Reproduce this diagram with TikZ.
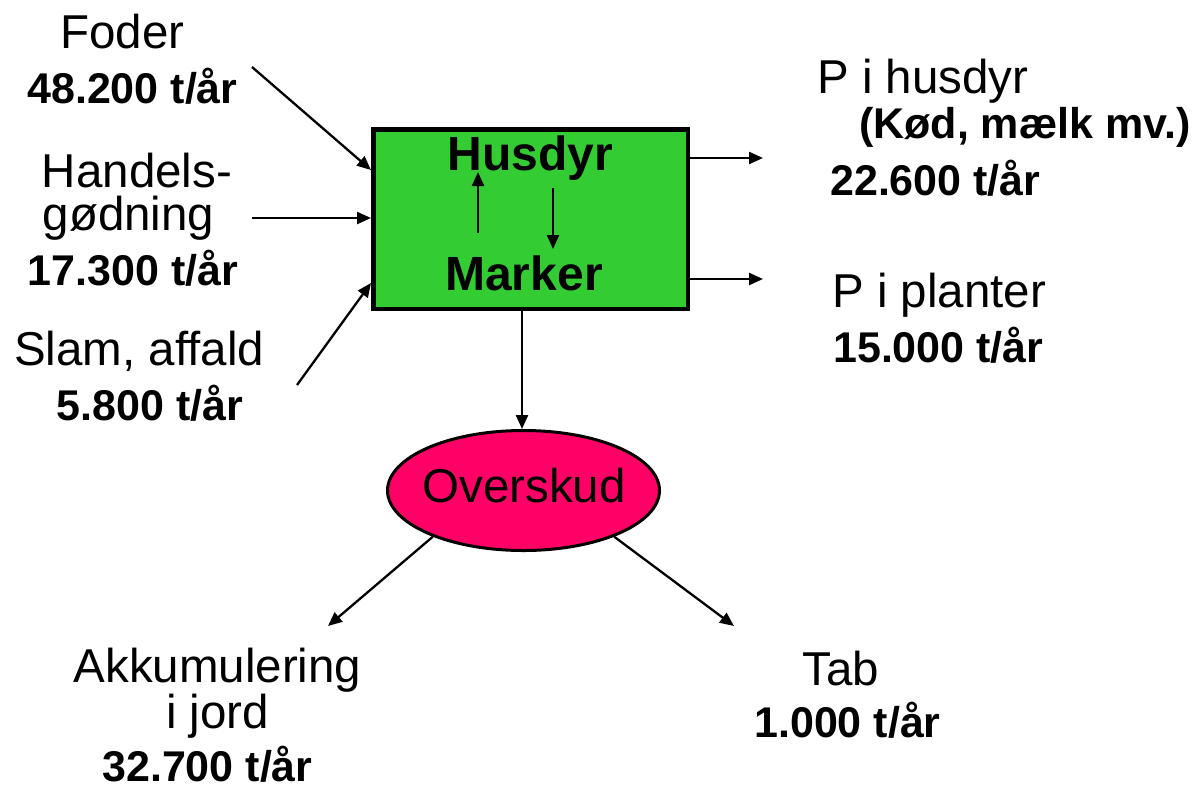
\documentclass[tikz,border=0pt]{standalone}
\usepackage{fontspec}
\setmainfont{Liberation Sans}
\usetikzlibrary{arrows.meta,shapes.geometric}
\definecolor{boxgreen}{RGB}{51,204,51}
\definecolor{ovpink}{RGB}{255,0,102}
\tikzset{
  reg/.style={font=\fontsize{47.5}{43}\selectfont, anchor=base, inner sep=0pt, align=center},
  num/.style={font=\fontsize{43}{52}\selectfont\bfseries, anchor=base, inner sep=0pt},
  big/.style={font=\fontsize{48}{58}\selectfont\bfseries, anchor=base, inner sep=0pt},
  arr/.style={line width=2.3pt, -{Triangle[length=14pt,width=12pt]}},
  mainbox/.style={draw, line width=4.5pt, fill=boxgreen, minimum width=314.5pt, minimum height=179.5pt, inner sep=0pt},
  ovbox/.style={ellipse, draw, line width=3pt, fill=ovpink, minimum width=272pt, minimum height=120pt, inner sep=0pt},
}
\begin{document}
\begin{tikzpicture}[x=1pt,y=-1pt]
\useasboundingbox (0,0) rectangle (1198,788);
% main box and ellipse
\node[mainbox] (box) at (530.5,219) {};
\node[ovbox] (ov) at (523.5,490.5) {};
\node[reg] (ovtxt) at (524,502) {Overskud};
\node[big] (hus) at (530.5,170) {Husdyr};
\node[big] (mark) at (524,290) {Marker};
% left texts
\node[reg] (foder) at (122.5,48) {Foder};
\node[num] (foderv) at (132.5,103) {48.200 t/år};
\node[reg] (handels) at (137,187) {Handels-};
\node[reg] (godning) at (128.5,230) {gødning};
\node[num] (handelsv) at (133,285) {17.300 t/år};
\node[reg] (slam) at (139,365) {Slam, affald};
\node[num] (slamv) at (150,420) {5.800 t/år};
% right texts
\node[reg, anchor=base west] (phus) at (817,93) {P i husdyr};
\node[num, anchor=base west] (kod) at (859,138) {(Kød, mælk mv.)};
\node[num, anchor=base west] (phusv) at (830,195) {22.600 t/år};
\node[reg, anchor=base west] (pplan) at (832,307) {P i planter};
\node[num, anchor=base west] (pplanv) at (833,362) {15.000 t/år};
% bottom texts
\node[reg] (akk) at (217.5,728) {Akkumulering\\i jord};
\node[num] (akkv) at (207.5,781) {32.700 t/år};
\node[reg] (tab) at (841,685) {Tab};
\node[num] (tabv) at (847.5,737) {1.000 t/år};
% free ends
\coordinate (fstart) at (252,67);
\coordinate (hstart) at (252,218);
\coordinate (sstart) at (297,385);
\coordinate (o1end) at (763,158);
\coordinate (o2end) at (763,279);
\coordinate (upA) at (478,233);
\coordinate (upB) at (478,172);
\coordinate (dnA) at (553,188);
\coordinate (dnB) at (553,249);
\coordinate (akkend) at (328,626);
\coordinate (tabend) at (734,626);
% connectors
\draw[arr] (fstart) -- ([yshift=-43pt]box.north west);
\draw[arr] (hstart) -- (hstart -| box.west);
\draw[arr] (sstart) -- ([yshift=28pt]box.south west);
\draw[arr] (o1end -| box.east) -- (o1end);
\draw[arr] (o2end -| box.east) -- (o2end);
\draw[arr] (upA) -- (upB);
\draw[arr] (dnA) -- (dnB);
\draw[arr] ([xshift=-1.5pt]ov.north |- box.south) -- ([xshift=-1.5pt]ov.north);
\draw[arr] (ov.207) -- (akkend);
\draw[arr] (ov.333) -- (tabend);
\end{tikzpicture}
\end{document}
